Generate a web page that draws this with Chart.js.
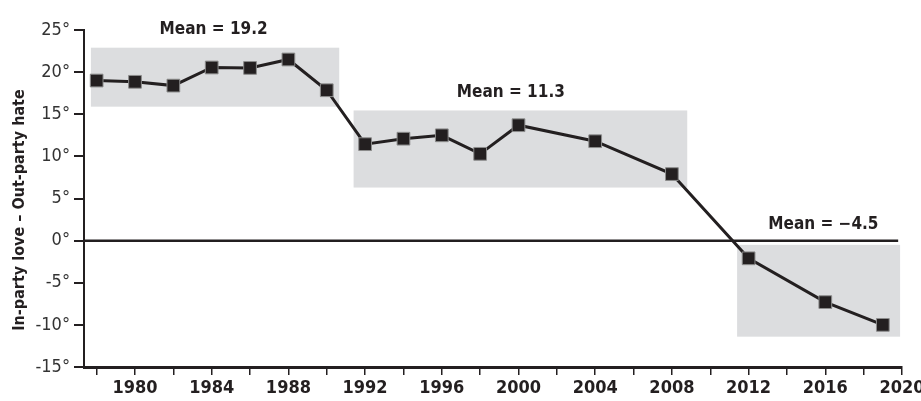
<!DOCTYPE html>
<html>
<head>
<meta charset="utf-8">
<script src="https://cdn.jsdelivr.net/npm/chart.js@4.4.0/dist/chart.umd.min.js"></script>
<style>
  html, body { margin: 0; padding: 0; background: #fff; }
  #wrap { width: 921px; height: 401px; }
</style>
</head>
<body>
<div id="wrap"><canvas id="myChart" width="921" height="401"></canvas></div>
<script>
// survey years and in-party love minus out-party hate (degrees)
const years = [1978, 1980, 1982, 1984, 1986, 1988, 1990, 1992, 1994, 1996, 1998, 2000, 2004, 2008, 2012, 2016, 2019];
const values = [19.0, 18.85, 18.4, 20.55, 20.5, 21.5, 17.85, 11.45, 12.1, 12.5, 10.3, 13.7, 11.8, 7.9, -2.1, -7.3, -10.0];

// axis ticks
const xTickYears = [1978, 1980, 1982, 1984, 1986, 1988, 1990, 1992, 1994, 1996, 1998, 2000, 2002, 2004, 2006, 2008, 2010, 2012, 2014, 2016, 2018, 2020];
const xLabelYears = [1980, 1984, 1988, 1992, 1996, 2000, 2004, 2008, 2012, 2016, 2020];
const yTicks = [-15, -10, -5, 0, 5, 10, 15, 20, 25];

// period means and their shaded ranges
const meanLabels = ['Mean = 19.2', 'Mean = 11.3', 'Mean = \u22124.5'];
const periodStart = [1977.7, 1991.4, 2011.4];
const periodEnd = [1990.65, 2008.8, 2019.9];
const rangeHigh = [22.9, 15.45, -0.5];
const rangeLow = [15.9, 6.3, -11.4];

const labelX = [1984.1, 1999.6, 2015.9];
const labelY = [25.0, 17.6, 1.9];

const xMin = 1977.34, xMax = 2020;
const ink = '#231f20';
const narrow = "'Liberation Sans Narrow', 'DejaVu Sans Condensed', 'Roboto', sans-serif";

const points = years.map((y, i) => ({ x: y, y: values[i] }));

// grey boxes, zero line and the mean labels
const extras = {
  id: 'extras',
  beforeDatasetsDraw(chart) {
    const { ctx, scales: { x, y } } = chart;
    ctx.save();
    ctx.fillStyle = '#dcdddf';
    for (let i = 0; i < periodStart.length; i++) {
      const l = x.getPixelForValue(periodStart[i]);
      const r = x.getPixelForValue(periodEnd[i]);
      const t = y.getPixelForValue(rangeHigh[i]);
      const b = y.getPixelForValue(rangeLow[i]);
      ctx.fillRect(l, t, r - l, b - t);
    }
    ctx.strokeStyle = ink;
    ctx.lineWidth = 2.5;
    ctx.beginPath();
    ctx.moveTo(x.getPixelForValue(xMin), y.getPixelForValue(0));
    ctx.lineTo(x.getPixelForValue(2019.8), y.getPixelForValue(0));
    ctx.stroke();
    ctx.restore();
  },
  afterDraw(chart) {
    const { ctx, scales: { x, y } } = chart;
    ctx.save();
    ctx.fillStyle = ink;
    ctx.font = "bold 17px " + narrow;
    ctx.textAlign = 'center';
    ctx.textBaseline = 'middle';
    for (let i = 0; i < meanLabels.length; i++) {
      ctx.fillText(meanLabels[i], x.getPixelForValue(labelX[i]), y.getPixelForValue(labelY[i]));
    }
    // y axis title
    ctx.font = "bold 16px " + narrow;
    ctx.translate(20, 210);
    ctx.rotate(-Math.PI / 2);
    ctx.fillText('In-party love \u2013 Out-party hate', 0, 0);
    ctx.restore();
  }
};

let ctx = document.getElementById('myChart').getContext('2d');

let myChart = new Chart(ctx, {
  type: 'line',
  data: {
    datasets: [{
      label: 'In-party love minus out-party hate',
      data: points,
      borderColor: ink,
      borderWidth: 3,
      pointStyle: 'rect',
      pointRadius: 9,
      pointHoverRadius: 9,
      pointBackgroundColor: ink,
      pointBorderColor: '#8c8c8c',
      pointBorderWidth: 1,
      tension: 0
    }]
  },
  options: {
    responsive: false,
    animation: false,
    events: [],
    layout: { padding: { top: 30, right: 19, left: 0, bottom: 0 } },
    plugins: {
      legend: { display: false },
      tooltip: { enabled: false }
    },
    scales: {
      x: {
        type: 'linear',
        min: xMin,
        max: xMax,
        afterBuildTicks: (scale) => { scale.ticks = xTickYears.map(v => ({ value: v })); },
        afterFit: (scale) => { scale.height = 34; scale.paddingLeft = 0; scale.paddingRight = 0; },
        grid: { drawOnChartArea: false, tickLength: 8, color: ink, lineWidth: 1.5 },
        border: { display: true, color: ink, width: 3 },
        ticks: {
          autoSkip: false,
          maxRotation: 0,
          padding: 3,
          color: ink,
          font: { family: narrow, size: 18, weight: 'bold' },
          callback: (v) => xLabelYears.includes(v) ? String(v) : ''
        }
      },
      y: {
        min: -15,
        max: 25,
        afterBuildTicks: (scale) => { scale.ticks = yTicks.map(v => ({ value: v })); },
        afterFit: (scale) => { scale.width = 84; scale.paddingTop = 0; scale.paddingBottom = 0; },
        grid: { drawOnChartArea: false, tickLength: 10, color: ink, lineWidth: 2 },
        border: { display: true, color: ink, width: 2 },
        ticks: {
          padding: 4,
          color: '#333',
          font: { family: narrow, size: 18 },
          callback: (v) => v + '\u00b0'
        }
      }
    }
  },
  plugins: [extras]
});
</script>
</body>
</html>
